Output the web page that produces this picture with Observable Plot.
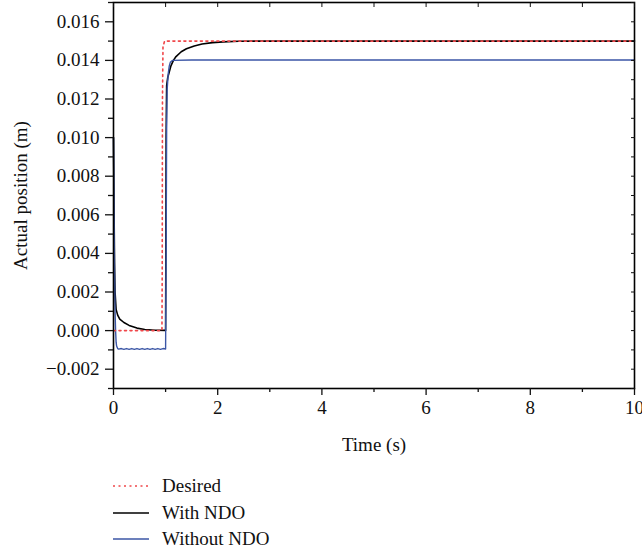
<!DOCTYPE html>
<html>
<head>
<meta charset="utf-8">
<script src="https://cdn.jsdelivr.net/npm/d3@7"></script>
<script src="https://cdn.jsdelivr.net/npm/@observablehq/plot@0.6"></script>
<style>
  html, body { margin: 0; padding: 0; background: #fff; }
  body { font-family: "Liberation Serif", "DejaVu Serif", serif; }
  #legend { margin-left: 113px; margin-top: 8px; font-size: 19px; color: #111; }
  .row { display: flex; align-items: center; height: 26.5px; }
  .row svg { margin-right: 13px; }
</style>
</head>
<body>
<div id="chart"></div>
<div id="legend"></div>
<script>
// Series: time (s) and position (m)
const desiredT = [0, 0.93, 0.935, 0.94, 0.95, 0.98, 10];
const desiredV = [0, 0, 0.003, 0.012, 0.0147, 0.015, 0.015];

const withT = [0, 0.01, 0.02, 0.03, 0.05, 0.08, 0.12, 0.2, 0.3, 0.45, 0.6, 0.8, 1.0, 1.005, 1.01, 1.02, 1.04, 1.07, 1.1, 1.15, 1.2, 1.3, 1.4, 1.55, 1.7, 1.9, 2.1, 2.4, 2.8, 3.5, 10];
const withV = [0.0100, 0.0065, 0.0035, 0.0020, 0.0011, 0.0008, 0.0006, 0.00042, 0.00027, 0.00013, 0.00006, 0.00002, 0.00001, 0.004, 0.010, 0.0127, 0.0131, 0.0134, 0.0137, 0.0140, 0.0142, 0.01445, 0.0146, 0.01475, 0.01485, 0.01492, 0.01496, 0.01499, 0.015, 0.015, 0.015];

const withoutT = [0, 0.01, 0.02, 0.03, 0.04, 0.05, 0.06, 0.08, 0.1, 0.15, 0.2, 0.25, 0.3, 0.35, 0.4, 0.45, 0.5, 0.55, 0.6, 0.65, 0.7, 0.75, 0.8, 0.85, 0.9, 0.95, 1.0, 1.01, 1.02, 1.03, 1.05, 1.07, 1.09, 1.13, 1.5, 3, 5, 7, 10];
const withoutV = [0.0100, 0.0060, 0.0030, 0.0010, 0.0000, -0.0006, -0.0008, -0.00093, -0.00096, -0.00093, -0.00097, -0.00093, -0.00097, -0.00093, -0.00097, -0.00093, -0.00097, -0.00093, -0.00097, -0.00093, -0.00097, -0.00093, -0.00097, -0.00093, -0.00097, -0.00093, -0.00095, 0.004, 0.0105, 0.0125, 0.0133, 0.0137, 0.0139, 0.0140, 0.01402, 0.01402, 0.01402, 0.01402, 0.01402];

const seriesNames = ["Desired", "With NDO", "Without NDO"];
const seriesColors = ["#f0474a", "#000000", "#3b56a6"];

const xMajor = [0, 2, 4, 6, 8, 10];
const xMinor = [1, 3, 5, 7, 9];
const xAll = [0, 1, 2, 3, 4, 5, 6, 7, 8, 9, 10];
const yMajor = [-0.002, 0, 0.002, 0.004, 0.006, 0.008, 0.010, 0.012, 0.014, 0.016];
const yMinor = [-0.003, -0.001, 0.001, 0.003, 0.005, 0.007, 0.009, 0.011, 0.013, 0.015, 0.017];
const yAll = yMajor.concat(yMinor);

const toRows = (T, V) => T.map((t, i) => ({t, v: V[i]}));
const desired = toRows(desiredT, desiredV);
const withNDO = toRows(withT, withV);
const withoutNDO = toRows(withoutT, withoutV);

const fmt = d3.format(".3f");

const chart = Plot.plot({
  width: 642,
  height: 465,
  marginLeft: 113,
  marginRight: 8,
  marginTop: 2,
  marginBottom: 77,
  style: {fontFamily: "Liberation Serif, DejaVu Serif, serif", fontSize: "19px", color: "#111", background: "#fff"},
  x: {domain: [0, 10]},
  y: {domain: [-0.003, 0.017]},
  marks: [
    Plot.line(withNDO, {x: "t", y: "v", stroke: seriesColors[1], strokeWidth: 1.6}),
    Plot.line(withoutNDO, {x: "t", y: "v", stroke: seriesColors[2], strokeWidth: 1.4}),
    Plot.line(desired, {x: "t", y: "v", stroke: seriesColors[0], strokeWidth: 1.6, strokeDasharray: "2,3.5"}),
    Plot.frame({stroke: "#000", strokeWidth: 1.6}),
    Plot.axisX({ticks: xMajor, tickSize: 7, tickPadding: 5, tickFormat: d3.format("d"), fontSize: 19,
      label: "Time (s)", labelAnchor: "center", labelArrow: "none", labelOffset: 62, strokeWidth: 1.3}),
    Plot.axisX({ticks: xMinor, tickSize: 4, tickFormat: null, text: null, label: null, strokeWidth: 1.3}),
    Plot.axisX({anchor: "top", ticks: xAll, tickSize: -4, text: null, label: null, strokeWidth: 1}),
    Plot.axisY({ticks: yMajor, tickSize: 8, tickPadding: 6, tickFormat: fmt, fontSize: 19,
      label: "Actual position (m)", labelAnchor: "center", labelArrow: "none", labelOffset: 100, strokeWidth: 1.3}),
    Plot.axisY({ticks: yMinor, tickSize: 5, text: null, label: null, strokeWidth: 1.3}),
    Plot.axisY({anchor: "right", ticks: yAll, tickSize: -4, text: null, label: null, strokeWidth: 1})
  ]
});
document.getElementById("chart").appendChild(chart);

const legend = document.getElementById("legend");
seriesNames.forEach((name, i) => {
  const row = document.createElement("div");
  row.className = "row";
  const dash = i === 0 ? 'stroke-dasharray="2,3.5"' : '';
  row.innerHTML = `<svg width="36" height="10"><line x1="0" y1="5" x2="36" y2="5" stroke="${seriesColors[i]}" stroke-width="1.6" ${dash}/></svg><span>${name}</span>`;
  legend.appendChild(row);
});
</script>
</body>
</html>
